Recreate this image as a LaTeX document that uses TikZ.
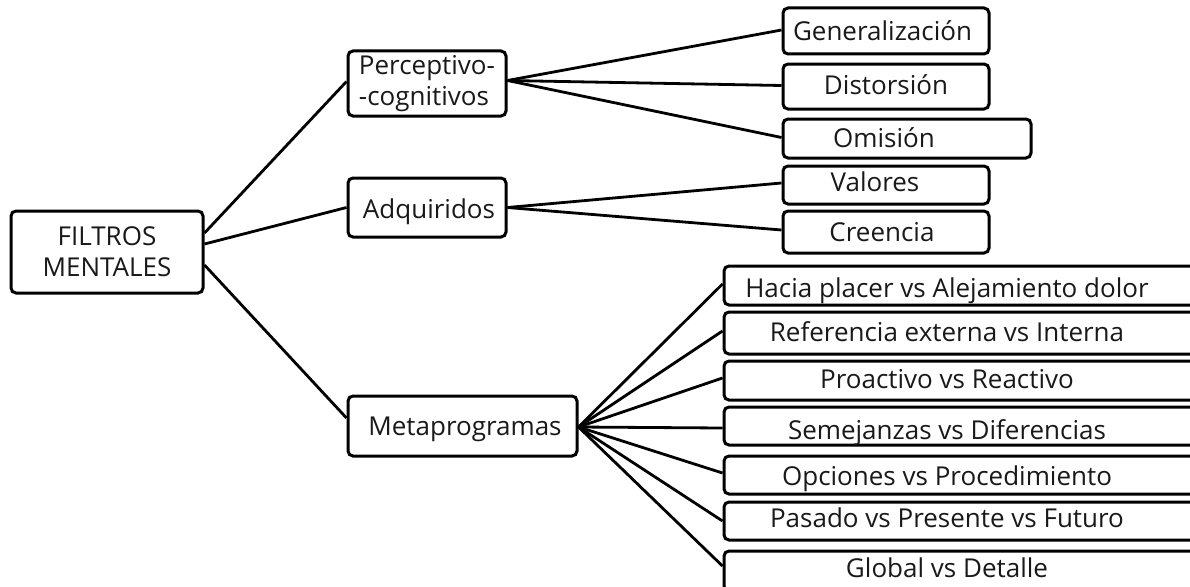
\documentclass[tikz,border=0pt]{standalone}
\usepackage{fontspec}
\setmainfont{Open Sans}
\begin{document}
\begin{tikzpicture}[x=1pt,y=-1pt,
  box/.style={draw=black,line width=3pt,rounded corners=5pt,inner sep=0pt,
    font=\fontsize{26}{31}\selectfont,text=black!90},
  one/.style={box,text height=18.6pt,text depth=0pt},
  wide/.style={one,minimum width=486pt},
  conn/.style={line width=2.8pt,black}]
\clip (0,0) rectangle (1190,586);
\fill[white] (0,0) rectangle (1190,586);
% level 0
\node[box,minimum width=192pt,minimum height=82pt,align=center] (fm) at (107,252)
  {FILTROS\\MENTALES};
% level 1
\node[box,minimum width=158pt,minimum height=65pt,align=left] (pc) at (427,83.5)
  {Perceptivo-\\-cognitivos};
\node[one,minimum width=158pt,minimum height=59pt] (ad) at (427,207.5) {\raisebox{-2pt}{\hspace*{4pt}Adquiridos}};
\node[one,minimum width=229pt,minimum height=60pt] (mp) at (462.5,426) {\hspace*{5pt}Metaprogramas};
% level 2
\node[one,minimum width=206pt,minimum height=46pt] (ge) at (886,31) {\raisebox{-0.7pt}{Generalización}\hspace*{7pt}};
\node[one,minimum width=206pt,minimum height=45pt] (di) at (886,86.5) {\raisebox{1.5pt}{Distorsión}};
\node[one,minimum width=248pt,minimum height=39pt] (om) at (907,138.5) {Omisión\hspace*{46pt}};
\node[one,minimum width=206pt,minimum height=38pt] (va) at (886,185) {\raisebox{3pt}{Valores}\hspace*{22pt}};
\node[one,minimum width=206pt,minimum height=42pt] (cr) at (886,232) {Creencia\hspace*{8pt}};
% metaprogramas
\node[wide,minimum height=39pt] (m1) at (967,285.5) {\raisebox{-2.5pt}{Hacia placer vs Alejamiento dolor}\hspace*{40pt}};
\node[wide,minimum height=42pt] (m2) at (967,333) {\raisebox{1pt}{Referencia externa vs Interna}\hspace*{40pt}};
\node[wide,minimum height=39pt] (m3) at (967,380.5) {\raisebox{1pt}{Proactivo vs Reactivo}\hspace*{40pt}};
\node[wide,minimum height=38pt] (m4) at (967,426) {\raisebox{-4pt}{Semejanzas vs Diferencias}\hspace*{40pt}};
\node[wide,minimum height=38pt] (m5) at (967,475) {\raisebox{-1pt}{Opciones vs Procedimiento}\hspace*{40pt}};
\node[wide,minimum height=38pt] (m6) at (967,521) {\raisebox{3pt}{Pasado vs Presente vs Futuro}\hspace*{40pt}};
\node[wide,minimum height=40pt] (m7) at (967,571) {\raisebox{3pt}{Global vs Detalle}\hspace*{40pt}};
% connectors
\draw[conn] ([yshift=19pt]fm.east) -- ([yshift=2pt]pc.west);
\draw[conn] ([yshift=8pt]fm.east) -- (ad.west);
\draw[conn] ([yshift=-13pt]fm.east) -- ([yshift=8pt]mp.west);
\draw[conn] ([yshift=3pt]pc.east) -- ([yshift=1pt]ge.west);
\draw[conn] ([yshift=3pt]pc.east) -- ([yshift=1pt]di.west);
\draw[conn] ([yshift=3pt]pc.east) -- ([yshift=1pt]om.west);
\draw[conn] (ad.east) -- ([yshift=2pt]va.west);
\draw[conn] (ad.east) -- ([yshift=2pt]cr.west);
\draw[conn] ([yshift=-1pt]mp.east) -- ([yshift=1.5pt]m1.west);
\draw[conn] ([yshift=-1pt]mp.east) -- ([yshift=2pt]m2.west);
\draw[conn] ([yshift=-1pt]mp.east) -- ([yshift=2.5pt]m3.west);
\draw[conn] ([yshift=-1pt]mp.east) -- ([yshift=-2pt]m4.west);
\draw[conn] ([yshift=-1pt]mp.east) -- ([yshift=2pt]m5.west);
\draw[conn] ([yshift=-1pt]mp.east) -- (m6.west);
\draw[conn] ([yshift=-1pt]mp.east) -- ([yshift=5pt]m7.west);
\end{tikzpicture}
\end{document}
